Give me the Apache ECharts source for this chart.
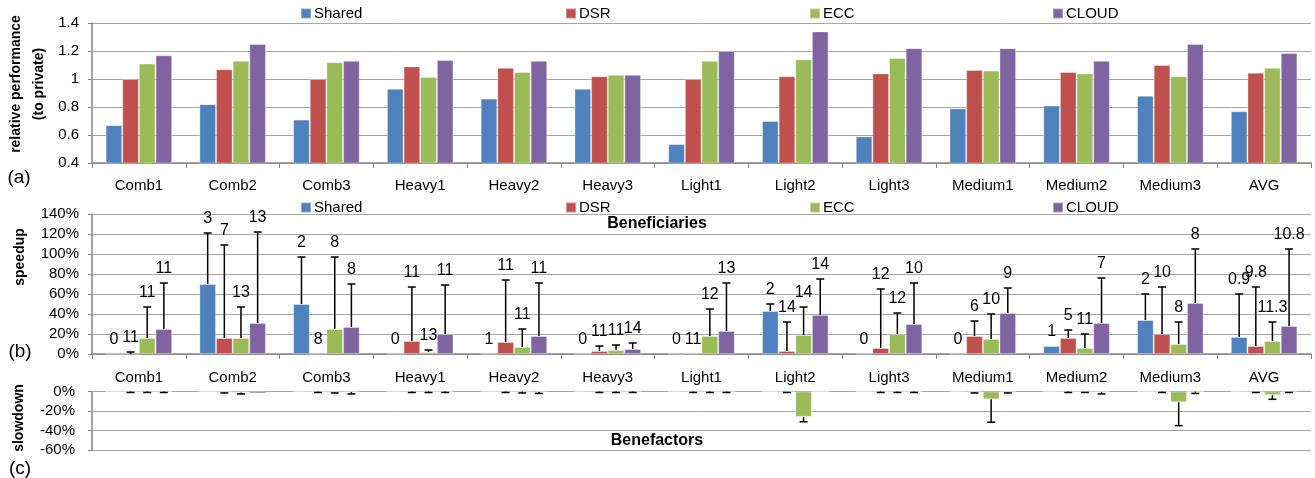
<!DOCTYPE html>
<html>
<head>
<meta charset="utf-8">
<script src="https://cdn.jsdelivr.net/npm/echarts@6/dist/echarts.min.js"></script>
<style>
  html, body { margin: 0; padding: 0; background: #fff; }
  #chart { width: 1315px; height: 478px; }
</style>
</head>
<body>
<div id="chart"></div>
<script>
// Workload categories shared by all three panels
const categories = ['Comb1', 'Comb2', 'Comb3', 'Heavy1', 'Heavy2', 'Heavy3', 'Light1',
  'Light2', 'Light3', 'Medium1', 'Medium2', 'Medium3', 'AVG'];
const seriesNames = ['Shared', 'DSR', 'ECC', 'CLOUD'];

// (a) relative performance (to private)
const perfShared = [0.67, 0.82, 0.71, 0.93, 0.86, 0.93, 0.535, 0.70, 0.59, 0.79, 0.81, 0.88, 0.77];
const perfDSR    = [1.00, 1.07, 1.00, 1.09, 1.08, 1.02, 1.00, 1.02, 1.04, 1.065, 1.05, 1.10, 1.045];
const perfECC    = [1.11, 1.13, 1.12, 1.015, 1.05, 1.03, 1.13, 1.14, 1.15, 1.06, 1.04, 1.02, 1.08];
const perfCLOUD  = [1.17, 1.25, 1.13, 1.135, 1.13, 1.03, 1.20, 1.34, 1.22, 1.22, 1.13, 1.25, 1.185];

// (b) speedup of beneficiaries (%), upper end of the error bar (%), and count labels
const speedShared   = [0, 70, 50, 0, 0, 0, 0, 43, 0, 0, 8, 34, 17];
const speedSharedHi = [0, 121, 97, 0, 0, 0, 0, 50, 0, 0, 8, 60, 60];
const speedDSR      = [0, 16, 0, 13, 12, 3, 0.6, 3, 6, 18, 16, 20, 8];
const speedDSRHi    = [2, 109, 0, 67, 74, 8, 0.6, 32, 65, 33, 24, 67, 67];
const speedECC      = [16, 16, 25, 2, 7, 4, 18, 19, 20, 15, 6, 10, 13];
const speedECCHi    = [47, 47, 97, 4, 25, 9, 45, 47, 41, 40, 20, 32, 32];
const speedCLOUD    = [25, 31, 27, 20, 18, 5, 23, 39, 30, 41, 31, 51, 28];
const speedCLOUDHi  = [71, 122, 70, 69, 71, 11, 71, 75, 71, 66, 76, 105, 105];
const countShared = ['0', '3', '2', '0', '1', '0', '0', '2', '0', '0', '1', '2', '0.9'];
const countDSR    = ['11', '7', '8', '11', '11', '11', '11', '14', '12', '6', '5', '10', '9.8'];
const countECC    = ['11', '13', '8', '13', '11', '11', '12', '14', '12', '10', '11', '8', '11.3'];
const countCLOUD  = ['11', '13', '8', '11', '11', '14', '13', '14', '10', '9', '7', '8', '10.8'];

// (c) slowdown of benefactors (%), and lower end of the error bar (%)
const slowShared   = [0, 0, 0, 0, 0, 0, 0, 0, 0, 0, 0, 0, 0];
const slowSharedLo = [0, 0, 0, 0, 0, 0, 0, 0, 0, 0, 0, 0, 0];
const slowDSR      = [0, -0.5, 0, 0, 0, 0, 0, -0.5, 0, -0.5, 0, 0, -0.5];
const slowDSRLo    = [-1, -1.5, -1, -1, -1, -1, -1, -1, -1, -1.5, -1, -1, -1];
const slowECC      = [0, -1, -0.5, 0, 0, 0, 0, -26, 0, -8, -0.5, -11, -3.7];
const slowECCLo    = [-1, -2.5, -1.5, -1, -1.5, -1, -1, -31, -1, -31.5, -1, -35, -8];
const slowCLOUD    = [0, -2, -0.5, 0, -0.5, 0, 0, 0, 0, -0.5, -0.5, 0, -0.5];
const slowCLOUDLo  = [-1, -2, -2.5, -1, -2, -1, -1, 0, -1, -1.5, -2.5, -2, -1];

// value-axis ranges and tick steps
const perfTicks = { min: 0.4, max: 1.4, step: 0.2 };
const speedTicks = { min: 0, max: 140, step: 20 };
const slowTicks = { min: -60, max: 0, step: 20 };

const colors = ['#4F81BD', '#C0504D', '#9BBB59', '#8064A2'];
const FONT = '"Liberation Sans", Arial, sans-serif';
const GAP = 0.29;               // category gap fraction
const gridLeft = 92, gridRight = 4;

const perfData = [perfShared, perfDSR, perfECC, perfCLOUD];
const speedData = [speedShared, speedDSR, speedECC, speedCLOUD];
const speedHi = [speedSharedHi, speedDSRHi, speedECCHi, speedCLOUDHi];
const speedCounts = [countShared, countDSR, countECC, countCLOUD];
const slowData = [slowShared, slowDSR, slowECC, slowCLOUD];
const slowLo = [slowSharedLo, slowDSRLo, slowECCLo, slowCLOUDLo];

function barSeries(dataSets, axisIdx) {
  return dataSets.map((d, k) => ({
    name: seriesNames[k],
    type: 'bar',
    xAxisIndex: axisIdx,
    yAxisIndex: axisIdx,
    data: d,
    barGap: '0%',
    barCategoryGap: (GAP * 100) + '%',
    itemStyle: { color: colors[k], borderColor: 'rgba(255,255,255,0.35)', borderWidth: 1 },
    animation: false
  }));
}

// One-sided error bars with an optional count label at their end
function errorSeries(dataSets, ends, labels, axisIdx) {
  const items = [];
  dataSets.forEach((d, k) => {
    d.forEach((v, i) => {
      items.push({ cat: i, k: k, v: v, end: ends[k][i], label: labels ? labels[k][i] : null });
    });
  });
  return {
    type: 'custom',
    xAxisIndex: axisIdx,
    yAxisIndex: axisIdx,
    clip: false,
    silent: true,
    animation: false,
    z: 5,
    data: items.map(it => [it.cat, it.end]),
    encode: { x: 0, y: 1 },
    renderItem: function (params, api) {
      const it = items[params.dataIndex];
      const catW = api.size([1, 0])[0];
      const barW = catW * (1 - GAP) / 4;
      const base = api.coord([it.cat, it.v]);
      const tip = api.coord([it.cat, it.end]);
      const x = base[0] + (it.k - 1.5) * barW;
      const children = [];
      if (it.end !== it.v) {
        children.push({ type: 'line', shape: { x1: x, y1: base[1], x2: x, y2: tip[1] },
          style: { stroke: '#000', lineWidth: 1.5 } });
        children.push({ type: 'line', shape: { x1: x - 4, y1: tip[1], x2: x + 4, y2: tip[1] },
          style: { stroke: '#000', lineWidth: 1.5 } });
      }
      if (it.label !== null) {
        children.push({ type: 'text', x: x, y: tip[1] - 6,
          style: { text: it.label, fill: '#000', font: '16px ' + FONT,
            align: 'center', verticalAlign: 'bottom',
            textAlign: 'center', textVerticalAlign: 'bottom' } });
      }
      return { type: 'group', children: children };
    }
  };
}

function legends(top) {
  const lefts = [300, 565, 809, 1052];
  return seriesNames.map((n, k) => ({
    data: [n], left: lefts[k], top: top, padding: 0,
    icon: 'rect', itemWidth: 10, itemHeight: 10,
    textStyle: { fontSize: 15, fontFamily: FONT, color: '#000', padding: [0, 0, 0, -2] },
    selectedMode: false
  }));
}

const splitLine = { show: true, lineStyle: { color: '#a6a6a6', width: 1 } };
const axisLineDark = { show: true, lineStyle: { color: '#868686', width: 1.5 } };
const yTick = { show: true, length: 4, lineStyle: { color: '#868686' } };

function pct(v) { return v + '%'; }

const option = {
  backgroundColor: '#fff',
  animation: false,
  legend: legends(6).concat(legends(200)),
  grid: [
    { left: gridLeft, right: gridRight, top: 23, height: 140 },
    { left: gridLeft, right: gridRight, top: 214, height: 140 },
    { left: gridLeft, right: gridRight, top: 391.5, height: 58.5 }
  ],
  xAxis: [
    { type: 'category', gridIndex: 0, data: categories,
      axisLine: axisLineDark, axisTick: { show: true, length: 5, lineStyle: { color: '#868686' } },
      axisLabel: { fontSize: 15, fontFamily: FONT, color: '#000', margin: 15 } },
    { type: 'category', gridIndex: 1, data: categories,
      axisLine: axisLineDark, axisTick: { show: true, length: 5, lineStyle: { color: '#868686' } },
      axisLabel: { fontSize: 15, fontFamily: FONT, color: '#000', margin: 16 } },
    { type: 'category', gridIndex: 2, data: categories, position: 'top',
      axisLine: { show: true, lineStyle: { color: '#a6a6a6', width: 1 } },
      axisTick: { show: false }, axisLabel: { show: false } }
  ],
  yAxis: [
    { type: 'value', gridIndex: 0, min: perfTicks.min, max: perfTicks.max, interval: perfTicks.step,
      axisLine: axisLineDark, axisTick: yTick, splitLine: splitLine,
      axisLabel: { fontSize: 15, fontFamily: FONT, color: '#000', margin: 13 } },
    { type: 'value', gridIndex: 1, min: speedTicks.min, max: speedTicks.max, interval: speedTicks.step,
      axisLine: axisLineDark, axisTick: yTick, splitLine: splitLine,
      axisLabel: { fontSize: 15, fontFamily: FONT, color: '#000', margin: 13, formatter: pct } },
    { type: 'value', gridIndex: 2, min: slowTicks.min, max: slowTicks.max, interval: slowTicks.step,
      axisLine: axisLineDark, axisTick: yTick, splitLine: splitLine,
      axisLabel: { fontSize: 15, fontFamily: FONT, color: '#000', margin: 17, formatter: pct } }
  ],
  series: [].concat(
    barSeries(perfData, 0),
    barSeries(speedData, 1),
    barSeries(slowData, 2),
    [errorSeries(speedData, speedHi, speedCounts, 1),
     errorSeries(slowData, slowLo, null, 2)]
  ),
  graphic: [
    { type: 'text', x: 16, y: 84, rotation: Math.PI / 2,
      style: { text: 'relative performance', font: 'bold 14px ' + FONT, fill: '#000',
        textAlign: 'center', textVerticalAlign: 'middle' } },
    { type: 'text', x: 39, y: 84, rotation: Math.PI / 2,
      style: { text: '(to private)', font: 'bold 14px ' + FONT, fill: '#000',
        textAlign: 'center', textVerticalAlign: 'middle' } },
    { type: 'text', x: 20, y: 257, rotation: Math.PI / 2,
      style: { text: 'speedup', font: 'bold 14px ' + FONT, fill: '#000',
        textAlign: 'center', textVerticalAlign: 'middle' } },
    { type: 'text', x: 19, y: 418, rotation: Math.PI / 2,
      style: { text: 'slowdown', font: 'bold 14px ' + FONT, fill: '#000',
        textAlign: 'center', textVerticalAlign: 'middle' } },
    { type: 'text', x: 19, y: 178,
      style: { text: '(a)', font: '19px ' + FONT, fill: '#000', textAlign: 'center', textVerticalAlign: 'middle' } },
    { type: 'text', x: 20, y: 352,
      style: { text: '(b)', font: '19px ' + FONT, fill: '#000', textAlign: 'center', textVerticalAlign: 'middle' } },
    { type: 'text', x: 20, y: 469,
      style: { text: '(c)', font: '19px ' + FONT, fill: '#000', textAlign: 'center', textVerticalAlign: 'middle' } },
    { type: 'text', x: 657, y: 224,
      style: { text: 'Beneficiaries', font: 'bold 16px ' + FONT, fill: '#000', textAlign: 'center', textVerticalAlign: 'middle' } },
    { type: 'text', x: 657, y: 441,
      style: { text: 'Benefactors', font: 'bold 16px ' + FONT, fill: '#000', textAlign: 'center', textVerticalAlign: 'middle' } }
  ]
};

const chart = echarts.init(document.getElementById('chart'));
chart.setOption(option);
</script>
</body>
</html>
